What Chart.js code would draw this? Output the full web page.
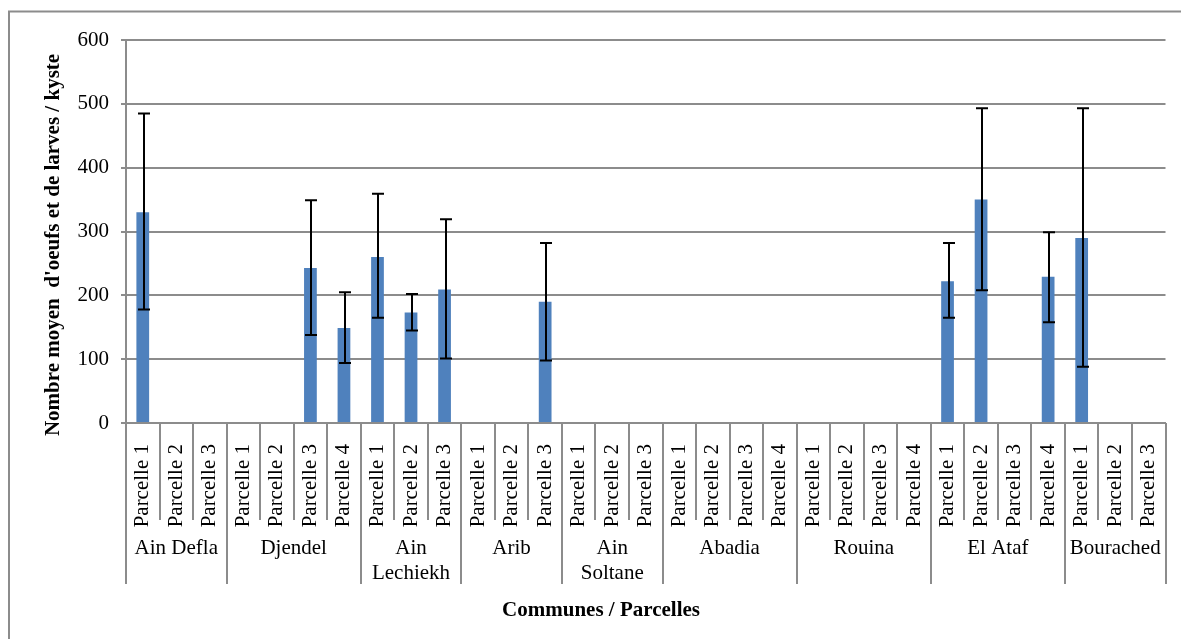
<!DOCTYPE html>
<html>
<head>
<meta charset="utf-8">
<script src="https://cdn.jsdelivr.net/npm/chart.js@4"></script>
<style>
  html, body { margin: 0; padding: 0; background: #fff; }
  #wrap { width: 1181px; height: 639px; position: relative; }
</style>
</head>
<body>
<div id="wrap"><canvas id="kysteChart" width="1181" height="639"></canvas></div>
<script>
  // communes et nombre de parcelles
  const communes = ['Ain Defla', 'Djendel', 'Ain Lechiekh', 'Arib', 'Ain Soltane', 'Abadia', 'Rouina', 'El Ataf', 'Bourached'];
  const communeLines = [['Ain Defla'], ['Djendel'], ['Ain', 'Lechiekh'], ['Arib'], ['Ain', 'Soltane'], ['Abadia'], ['Rouina'], ['El Ataf'], ['Bourached']];
  const parcelCounts = [3, 4, 3, 3, 3, 4, 4, 4, 3];

  // moyennes (null = pas de valeur)
  const means = [
    330, null, null,
    null, null, 243, 149,
    260, 173, 209,
    null, null, 190,
    null, null, null,
    null, null, null, null,
    null, null, null, null,
    222, 350, null, 229,
    290, null, null
  ];
  // bornes des barres d'erreur
  const errLow = [
    178, null, null,
    null, null, 138, 94,
    165, 145, 101,
    null, null, 98,
    null, null, null,
    null, null, null, null,
    null, null, null, null,
    165, 208, null, 158,
    88, null, null
  ];
  const errHigh = [
    485, null, null,
    null, null, 349, 205,
    359, 202, 319,
    null, null, 282,
    null, null, null,
    null, null, null, null,
    null, null, null, null,
    282, 493, null, 299,
    493, null, null
  ];

  const yTicks = [0, 100, 200, 300, 400, 500, 600];

  // labels "Parcelle n"
  let labels = [];
  parcelCounts.forEach(n => {
    for (let p = 1; p <= n; p++) labels.push('Parcelle ' + p);
  });

  const gray = '#8c8c8c';
  const serif = "'Liberation Serif', 'Times New Roman', serif";

  // barres d'erreur, cadre, séparateurs et titres
  const extras = {
    id: 'extras',
    beforeDraw(chart) {
      const c = chart.ctx;
      c.save();
      c.strokeStyle = gray;
      c.lineWidth = 2;
      c.beginPath();
      c.moveTo(9, 700);
      c.lineTo(9, 11.5);
      c.lineTo(1300, 11.5);
      c.stroke();
      c.restore();
    },
    afterDatasetsDraw(chart) {
      const c = chart.ctx;
      const x = chart.scales.x, y = chart.scales.y;
      c.save();
      c.strokeStyle = '#000';
      c.lineWidth = 2;
      for (let i = 0; i < means.length; i++) {
        if (errLow[i] == null) continue;
        const px = Math.round(x.getPixelForValue(i)) + 1;
        const y1 = y.getPixelForValue(errLow[i]);
        const y2 = y.getPixelForValue(errHigh[i]);
        c.beginPath();
        c.moveTo(px, y1); c.lineTo(px, y2);
        c.moveTo(px - 6, y1); c.lineTo(px + 6, y1);
        c.moveTo(px - 6, y2); c.lineTo(px + 6, y2);
        c.stroke();
      }
      c.restore();
    },
    afterDraw(chart) {
      const c = chart.ctx;
      const x = chart.scales.x;
      const bottom = chart.chartArea.bottom;
      const w = x.getPixelForValue(1) - x.getPixelForValue(0);
      c.save();
      c.strokeStyle = gray;
      c.lineWidth = 2;
      // séparateurs
      let groupEdges = [0];
      let acc = 0;
      parcelCounts.forEach(n => { acc += n; groupEdges.push(acc); });
      for (let i = 0; i <= labels.length; i++) {
        const ex = Math.round(x.getPixelForValue(i) - w / 2);
        const len = groupEdges.includes(i) ? 161 : 97;
        c.beginPath();
        c.moveTo(ex, bottom);
        c.lineTo(ex, bottom + len);
        c.stroke();
      }
      // noms des communes
      c.fillStyle = '#000';
      c.font = '21px ' + serif;
      c.textAlign = 'center';
      c.textBaseline = 'middle';
      communeLines.forEach((lines, g) => {
        const cx = (x.getPixelForValue(groupEdges[g]) + x.getPixelForValue(groupEdges[g + 1])) / 2 - w / 2;
        lines.forEach((t, k) => c.fillText(t, cx, bottom + 125 + k * 25));
      });
      // titres des axes
      c.font = 'bold 21px ' + serif;
      c.fillText('Communes / Parcelles', 601, 611);
      c.translate(54, 245);
      c.rotate(-Math.PI / 2);
      c.fillText("Nombre moyen  d'oeufs et de larves / kyste", 0, 0);
      c.restore();
    }
  };

  const ctx = document.getElementById('kysteChart').getContext('2d');
  const kysteChart = new Chart(ctx, {
    type: 'bar',
    data: {
      labels: labels,
      datasets: [{
        data: means,
        backgroundColor: '#4f81bd',
        borderWidth: 0,
        categoryPercentage: 1,
        barPercentage: 0.38
      }]
    },
    options: {
      responsive: false,
      animation: false,
      layout: { padding: { top: 40, right: 15.5, left: 0, bottom: 0 } },
      plugins: {
        legend: { display: false },
        tooltip: { enabled: false }
      },
      scales: {
        x: {
          grid: { display: false },
          border: { display: true, color: gray, width: 2 },
          ticks: {
            minRotation: 90,
            maxRotation: 90,
            autoSkip: false,
            padding: 13,
            color: '#000',
            font: { family: serif, size: 21 }
          },
          afterFit(s) {
            s.height = 216;
            s.paddingLeft = 0;
            s.paddingRight = 0;
          }
        },
        y: {
          min: 0,
          max: 600,
          afterBuildTicks(s) { s.ticks = yTicks.map(v => ({ value: v })); },
          grid: { color: gray, lineWidth: 2, tickLength: 5 },
          border: { display: true, color: gray, width: 2 },
          ticks: {
            padding: 12,
            color: '#000',
            font: { family: serif, size: 21 }
          },
          afterFit(s) { s.width = 126; }
        }
      }
    },
    plugins: [extras]
  });
</script>
</body>
</html>
